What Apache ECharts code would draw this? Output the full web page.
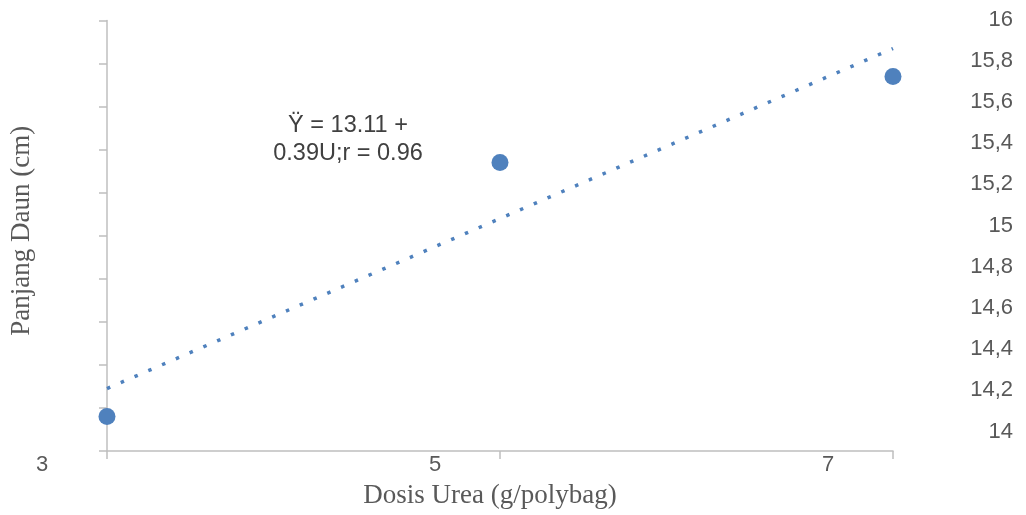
<!DOCTYPE html>
<html>
<head>
<meta charset="utf-8">
<script src="https://cdn.jsdelivr.net/npm/echarts@6/dist/echarts.min.js"></script>
<style>
  html, body { margin: 0; padding: 0; background: #ffffff; }
  #chart { width: 1026px; height: 515px; }
</style>
</head>
<body>
<div id="chart"></div>
<script>
// Urea dose (g/polybag) and measured leaf length (cm)
const doses = [3, 5, 7];
const leafLength = [14.16, 15.34, 15.74];

// Tick labels
const xTickLabels = ['3', '5', '7'];
const yTickLabels = ['14', '14,2', '14,4', '14,6', '14,8', '15', '15,2', '15,4', '15,6', '15,8', '16'];

// Regression annotation text
const equationText = 'Ÿ = 13.11 +\n0.39U;r = 0.96';

// Least-squares line through the measured points
function linearFit(xs, ys) {
  const n = xs.length;
  const mx = xs.reduce((a, b) => a + b, 0) / n;
  const my = ys.reduce((a, b) => a + b, 0) / n;
  let sxy = 0, sxx = 0;
  for (let i = 0; i < n; i++) {
    sxy += (xs[i] - mx) * (ys[i] - my);
    sxx += (xs[i] - mx) * (xs[i] - mx);
  }
  const b = sxy / sxx;
  return { a: my - b * mx, b: b };
}
const fit = linearFit(doses, leafLength);
const xMin = Math.min(...doses), xMax = Math.max(...doses);
const trend = [[xMin, fit.a + fit.b * xMin], [xMax, fit.a + fit.b * xMax]];

const axisGray = '#BFBFBF';
const textGray = '#595959';
const blue = '#4F81BD';

const chart = echarts.init(document.getElementById('chart'));
chart.setOption({
  animation: false,
  backgroundColor: '#ffffff',
  grid: [
    { left: 106, top: 20.5, width: 787, height: 430.5 },
    { left: 106, top: 19.5, width: 787, height: 412 }
  ],
  xAxis: [
    {
      type: 'value', gridIndex: 0, min: 3, max: 7, interval: 2,
      axisLine: { show: true, lineStyle: { color: axisGray, width: 1.5 } },
      axisTick: { show: true, length: 8, lineStyle: { color: axisGray, width: 1.5 } },
      splitLine: { show: false },
      axisLabel: {
        color: textGray, fontFamily: 'Liberation Sans, Arial, sans-serif', fontSize: 22,
        margin: 3, padding: [0, 130, 0, 0],
        formatter: (v) => xTickLabels[doses.indexOf(v)] ?? ''
      },
      name: 'Dosis Urea (g/polybag)',
      nameLocation: 'middle', nameGap: 31,
      nameTextStyle: {
        color: textGray, fontFamily: 'Liberation Serif, Times New Roman, serif', fontSize: 27,
        padding: [0, 20, 0, 0]
      }
    },
    {
      type: 'value', gridIndex: 1, min: 0, max: 1, show: false
    }
  ],
  yAxis: [
    {
      type: 'value', gridIndex: 0, min: 14, max: 16, interval: 0.2,
      axisLine: { show: true, lineStyle: { color: axisGray, width: 1.5 } },
      axisTick: { show: true, length: 8, lineStyle: { color: axisGray, width: 1.5 } },
      splitLine: { show: false },
      axisLabel: { show: false },
      name: 'Panjang Daun (cm)',
      nameLocation: 'middle', nameGap: 72, nameRotate: 90,
      nameTextStyle: {
        color: textGray, fontFamily: 'Liberation Serif, Times New Roman, serif', fontSize: 27,
        padding: [0, 0, 0, 10]
      }
    },
    {
      type: 'category', gridIndex: 1, position: 'right', data: yTickLabels,
      boundaryGap: false,
      offset: 120,
      axisLine: { show: false },
      axisTick: { show: false },
      splitLine: { show: false },
      axisLabel: {
        color: textGray, fontFamily: 'Liberation Sans, Arial, sans-serif', fontSize: 22,
        align: 'right', margin: 0, interval: 0
      }
    }
  ],
  graphic: [
    {
      type: 'text', x: 348, y: 140,
      style: {
        text: equationText,
        fill: '#404040', font: '23.5px "Liberation Sans", Arial, sans-serif',
        align: 'center', verticalAlign: 'middle', lineHeight: 28
      }
    }
  ],
  series: [
    {
      name: 'Trend', type: 'line', xAxisIndex: 0, yAxisIndex: 0,
      data: trend, showSymbol: false, symbol: 'none',
      lineStyle: { color: blue, width: 3.5, type: [3.5, 11.5], cap: 'butt' },
      silent: true, z: 2
    },
    {
      name: 'Panjang Daun', type: 'scatter', xAxisIndex: 0, yAxisIndex: 0,
      data: doses.map((x, i) => [x, leafLength[i]]),
      symbol: 'circle', symbolSize: 17,
      itemStyle: { color: blue, opacity: 1 }, z: 3
    }
  ]
});
</script>
</body>
</html>
